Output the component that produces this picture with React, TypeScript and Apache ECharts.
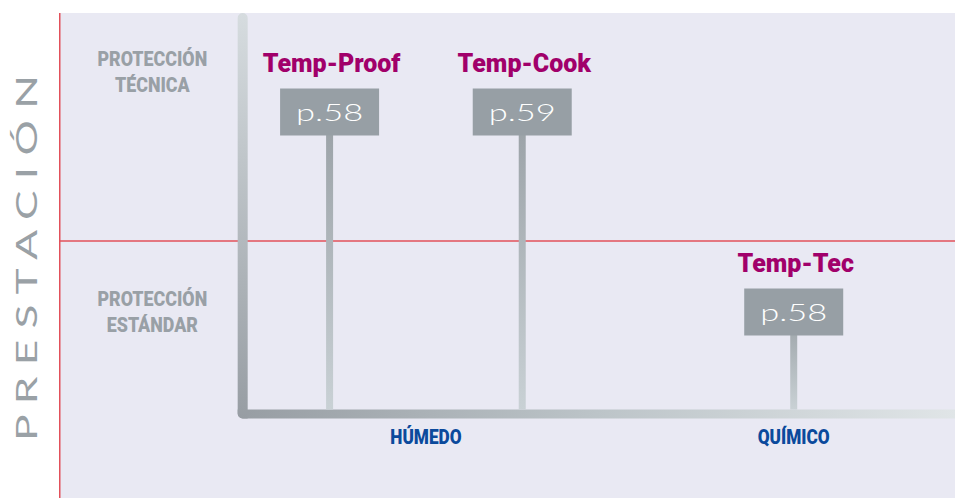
import React, { useEffect, useRef } from 'react';
import * as echarts from 'echarts';

// ---- data ----
const categories = ['HÚMEDO', 'QUÍMICO'];
const levelLabels = ['PROTECCIÓN\nESTÁNDAR', 'PROTECCIÓN\nTÉCNICA'];
const levelLabelY = [1.0, 2.2];
const productNames = ['Temp-Proof', 'Temp-Cook', 'Temp-Tec'];
const productPages = ['p.58', 'p.59', 'p.58'];
const productCategory = [0, 0, 1];
const productX = [3.02, 5.17, 8.2];
const productLevel = [2, 2, 1];
const axisTitle = 'P R E S T A C I Ó N';

// ---- scale settings ----
const xMin = 0;
const xMax = 10;
const yMin = 0.07;
const yMax = 2.495;
const originX = 2.05;
const baselineY = 0.49;
const dividerY = 1.355;

const GRAY_TEXT = '#99a0a6';
const MAGENTA = '#a1006a';
const BLUE = '#0b4a9c';
const RED = '#e2505a';
const HEAVY = 'Roboto, "Liberation Sans", Arial, sans-serif';

function txt(style: any) {
  return {
    ...style,
    textAlign: style.align,
    textVerticalAlign: style.verticalAlign,
  };
}

export default function App() {
  const ref = useRef<HTMLDivElement>(null);

  useEffect(() => {
    if (!ref.current) return;
    const chart = echarts.init(ref.current, null, { renderer: 'svg' });

    const productData = productX.map((x, i) => [x, productLevel[i]]);
    const catData = categories.map((_, ci) => {
      const xs = productX.filter((_, i) => productCategory[i] === ci);
      return [xs.reduce((a, b) => a + b, 0) / xs.length, baselineY];
    });
    const levelData = levelLabels.map((_, i) => [originX, levelLabelY[i]]);

    const option: any = {
      animation: false,
      grid: {
        left: 59,
        right: 0,
        top: 13,
        bottom: 0,
        show: true,
        backgroundColor: '#e9e9f3',
        borderWidth: 0,
      },
      xAxis: {
        type: 'value',
        min: xMin,
        max: xMax,
        axisLine: { show: false },
        axisTick: { show: false },
        axisLabel: { show: false },
        splitLine: { show: false },
      },
      yAxis: {
        type: 'value',
        min: yMin,
        max: yMax,
        axisLine: { show: false },
        axisTick: { show: false },
        axisLabel: { show: false },
        splitLine: { show: false },
      },
      graphic: [
        {
          type: 'text',
          x: 26,
          y: 258,
          rotation: Math.PI / 2,
          scaleX: 1.58,
          silent: true,
          style: txt({
            text: axisTitle,
            fill: '#9aa1a6',
            fontSize: 28,
            fontWeight: 400,
            fontFamily: 'Lato, "Liberation Sans", sans-serif',
            align: 'center',
            verticalAlign: 'middle',
          }),
        },
      ],
      series: [
        {
          type: 'custom',
          name: 'frame',
          silent: true,
          data: [[originX, baselineY]],
          renderItem: (params: any, api: any) => {
            const cs = params.coordSys;
            const o = api.coord([originX, baselineY]);
            const d = api.coord([xMin, dividerY]);
            const right = cs.x + cs.width;
            return {
              type: 'group',
              children: [
                {
                  type: 'line',
                  shape: { x1: cs.x, y1: d[1], x2: right, y2: d[1] },
                  style: { stroke: RED, lineWidth: 1.3 },
                },
                {
                  type: 'line',
                  shape: { x1: cs.x + 0.75, y1: cs.y, x2: cs.x + 0.75, y2: cs.y + cs.height },
                  style: { stroke: RED, lineWidth: 1.5 },
                },
                {
                  type: 'rect',
                  shape: { x: o[0] - 5, y: o[1] - 4.5, width: right - (o[0] - 5), height: 9, r: [0, 0, 0, 5] },
                  style: {
                    fill: new echarts.graphic.LinearGradient(0, 0, 1, 0, [
                      { offset: 0, color: '#979da3' },
                      { offset: 0.5, color: '#bcc4c8' },
                      { offset: 1, color: '#e0e5e7' },
                    ]),
                  },
                },
                {
                  type: 'rect',
                  shape: { x: o[0] - 5, y: cs.y, width: 10, height: o[1] + 4.5 - cs.y, r: [5, 5, 0, 5] },
                  style: {
                    fill: new echarts.graphic.LinearGradient(0, 0, 0, 1, [
                      { offset: 0, color: '#d6dcdf' },
                      { offset: 1, color: '#979da3' },
                    ]),
                  },
                },
              ],
            };
          },
        },
        {
          type: 'custom',
          name: 'levels',
          silent: true,
          data: levelData,
          renderItem: (params: any, api: any) => {
            const cs = params.coordSys;
            const c = api.coord([api.value(0), api.value(1)]);
            const cx = (cs.x + c[0]) / 2 + 1.5;
            return {
              type: 'text',
              x: cx,
              y: c[1],
              scaleX: 0.85,
              style: txt({
                text: levelLabels[params.dataIndex],
                fill: GRAY_TEXT,
                fontSize: 21,
                fontWeight: 900,
                fontFamily: HEAVY,
                lineHeight: 26,
                align: 'center',
                verticalAlign: 'middle',
              }),
            };
          },
        },
        {
          type: 'custom',
          name: 'categories',
          silent: true,
          data: catData,
          renderItem: (params: any, api: any) => {
            const c = api.coord([api.value(0), api.value(1)]);
            return {
              type: 'text',
              x: c[0],
              y: c[1] + 22.5,
              scaleX: 0.82,
              style: txt({
                text: categories[params.dataIndex],
                fill: BLUE,
                fontSize: 21,
                fontWeight: 900,
                fontFamily: HEAVY,
                align: 'center',
                verticalAlign: 'middle',
              }),
            };
          },
        },
        {
          type: 'custom',
          name: 'products',
          silent: true,
          data: productData,
          renderItem: (params: any, api: any) => {
            const i = params.dataIndex;
            const c = api.coord([api.value(0), api.value(1)]);
            const base = api.coord([api.value(0), baselineY]);
            const bw = 99;
            const bh = 47;
            return {
              type: 'group',
              children: [
                {
                  type: 'rect',
                  shape: { x: c[0] - 3.5, y: c[1], width: 7, height: base[1] - 4.5 - c[1] },
                  style: {
                    fill: new echarts.graphic.LinearGradient(0, 0, 0, 1, [
                      { offset: 0, color: '#99a0a5' },
                      { offset: 1, color: '#c9d1d5' },
                    ]),
                  },
                },
                {
                  type: 'rect',
                  shape: { x: c[0] - bw / 2, y: c[1] - bh / 2, width: bw, height: bh },
                  style: { fill: '#979fa5' },
                },
                {
                  type: 'text',
                  x: c[0],
                  y: c[1],
                  scaleX: 1.5,
                  style: txt({
                    text: productPages[i],
                    fill: '#ffffff',
                    fontSize: 23,
                    fontWeight: 300,
                    fontFamily: 'Lato, "Liberation Sans", sans-serif',
                    align: 'center',
                    verticalAlign: 'middle',
                  }),
                },
                {
                  type: 'text',
                  x: c[0] + 2,
                  y: c[1] - bh / 2 - 25.5,
                  style: txt({
                    text: productNames[i],
                    fill: MAGENTA,
                    fontSize: 25,
                    fontWeight: 900,
                    fontFamily: HEAVY,
                    align: 'center',
                    verticalAlign: 'middle',
                  }),
                },
              ],
            };
          },
        },
      ],
    };

    chart.setOption(option);
    return () => chart.dispose();
  }, []);

  return (
    <div
      ref={ref}
      style={{ position: 'absolute', left: 0, top: 0, width: 955, height: 498, background: '#ffffff' }}
    />
  );
}
